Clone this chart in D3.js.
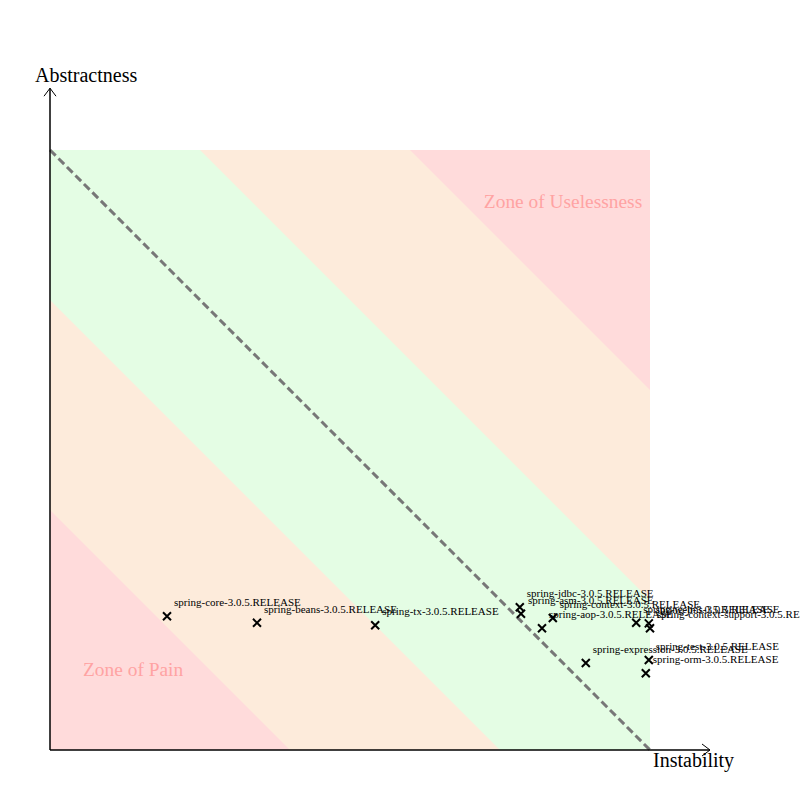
<!DOCTYPE html>
<html><head><meta charset="utf-8">
<script src="https://cdn.jsdelivr.net/npm/d3@7"></script>
<style>body{margin:0;background:#fff}svg{display:block}text{font-family:"Liberation Serif","Times New Roman",serif}</style>
</head><body>
<svg id="c" width="800" height="800"></svg>
<script>
const packages = ["spring-core-3.0.5.RELEASE","spring-beans-3.0.5.RELEASE","spring-tx-3.0.5.RELEASE",
  "spring-jdbc-3.0.5.RELEASE","spring-asm-3.0.5.RELEASE","spring-context-3.0.5.RELEASE","spring-aop-3.0.5.RELEASE",
  "spring-web-3.0.5.RELEASE","spring-jms-3.0.5.RELEASE","spring-context-support-3.0.5.RELEASE",
  "spring-expression-3.0.5.RELEASE","spring-test-3.0.5.RELEASE","spring-orm-3.0.5.RELEASE"];
const instability = [0.195,0.345,0.542,0.783,0.785,0.838,0.82,0.977,0.998,1.0,0.893,0.998,0.993];
const abstractness = [0.223,0.212,0.208,0.238,0.227,0.22,0.203,0.212,0.211,0.203,0.145,0.15,0.128];
const bandLimits = [0.6,0.25];          // distance from main sequence
const bandColors = ["#fdebdb","#e4fde4"];
const outerColor = "#ffdbdb";
const zoneLabels = ["Zone of Uselessness","Zone of Pain"];
const axisTitles = ["Instability","Abstractness"];

const svg = d3.select("#c");
const x = d3.scaleLinear().domain([0,1]).range([50,650]);
const y = d3.scaleLinear().domain([0,1]).range([750,150]);

// background zones
svg.append("rect").attr("x",x(0)).attr("y",y(1)).attr("width",x(1)-x(0)).attr("height",y(0)-y(1)).attr("fill",outerColor);
bandLimits.forEach((d,i)=>{
  const pts = [[0,1-d],[1-d,0],[1,0],[1,d],[d,1],[0,1]];
  svg.append("polygon").attr("points",pts.map(p=>[x(p[0]),y(p[1])].join(",")).join(" ")).attr("fill",bandColors[i]);
});

// zone labels
svg.append("text").attr("x",x(0.987)).attr("y",y(0.903)).attr("text-anchor","end")
  .attr("font-size",19.4).attr("fill","#ffa3a3").text(zoneLabels[0]);
svg.append("text").attr("x",x(0.055)).attr("y",y(0.123))
  .attr("font-size",19.4).attr("fill","#ffa3a3").text(zoneLabels[1]);

// main sequence
svg.append("line").attr("x1",x(0)).attr("y1",y(1)).attr("x2",x(1)).attr("y2",y(0))
  .attr("stroke","#777").attr("stroke-width",3).attr("stroke-dasharray","8,4");

// axes
svg.append("line").attr("x1",x(0)).attr("y1",y(0)).attr("x2",x(1.1)).attr("y2",y(0)).attr("stroke","#000").attr("stroke-width",1.5);
svg.append("line").attr("x1",x(0)).attr("y1",y(0)).attr("x2",x(0)).attr("y2",y(1.103)).attr("stroke","#000").attr("stroke-width",1.5);
svg.append("path").attr("d",`M${x(1.1)-8},${y(0)-6}L${x(1.1)},${y(0)}L${x(1.1)-8},${y(0)+6}`).attr("fill","none").attr("stroke","#000");
svg.append("path").attr("d",`M${x(0)-6},${y(1.103)+8}L${x(0)},${y(1.103)}L${x(0)+6},${y(1.103)+8}`).attr("fill","none").attr("stroke","#000");
svg.append("text").attr("x",x(1.005)).attr("y",y(-0.028)).attr("font-size",20).text(axisTitles[0]);
svg.append("text").attr("x",x(-0.025)).attr("y",y(1.113)).attr("font-size",20).text(axisTitles[1]);

// points
const data = packages.map((n,i)=>({n, I:instability[i], A:abstractness[i]}));
const g = svg.append("g");
data.forEach(d=>{
  const cx = x(d.I), cy = y(d.A), r = 4;
  g.append("path").attr("d",`M${cx-r},${cy-r}L${cx+r},${cy+r}M${cx-r},${cy+r}L${cx+r},${cy-r}`)
    .attr("stroke","#000").attr("stroke-width",2);
});
data.forEach(d=>{
  g.append("text").attr("x",x(d.I)+7).attr("y",y(d.A)-10).attr("font-size",11).text(d.n);
});
</script>
</body></html>
